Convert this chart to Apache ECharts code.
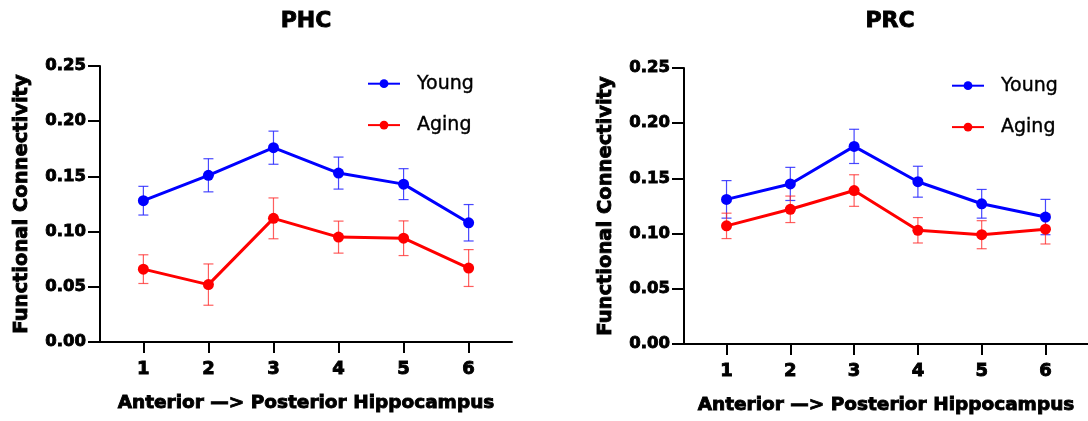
<!DOCTYPE html>
<html>
<head>
<meta charset="utf-8">
<script src="https://cdn.jsdelivr.net/npm/echarts@6/dist/echarts.min.js"></script>
<style>html,body{margin:0;padding:0;background:#fff;}#c{width:1088px;height:421px;}</style>
</head>
<body>
<div id="c"></div>
<script>
const positions = [1, 2, 3, 4, 5, 6];
const yTicks = [0, 0.05, 0.10, 0.15, 0.20, 0.25];
const titles = ['PHC', 'PRC'];
const seriesNames = ['Young', 'Aging'];

// PHC panel
const phcYoung = [0.128, 0.151, 0.176, 0.153, 0.143, 0.108];
const phcYoungErr = [0.013, 0.015, 0.015, 0.0145, 0.014, 0.0165];
const phcAging = [0.066, 0.052, 0.112, 0.095, 0.094, 0.067];
const phcAgingErr = [0.013, 0.0187, 0.0185, 0.0145, 0.0157, 0.0167];

// PRC panel
const prcYoung = [0.131, 0.145, 0.179, 0.147, 0.127, 0.115];
const prcYoungErr = [0.017, 0.015, 0.0155, 0.014, 0.013, 0.016];
const prcAging = [0.107, 0.122, 0.139, 0.103, 0.099, 0.104];
const prcAgingErr = [0.0115, 0.012, 0.0143, 0.0115, 0.0127, 0.0134];

const colors = ['#0000ff', '#ff0000'];
const errColors = ['rgba(40,40,255,0.85)', 'rgba(255,40,40,0.75)'];

const panels = [
  {left: 100, top: 66, values: [phcYoung, phcAging], errs: [phcYoungErr, phcAgingErr]},
  {left: 684, top: 68, values: [prcYoung, prcAging], errs: [prcYoungErr, prcAgingErr]}
];
const gridW = 412, gridH = 276;
const FONT = 'DejaVu Sans';
const heavy = {textBorderColor: '#000', textBorderWidth: 0.9};

const option = {
  animation: false,
  backgroundColor: '#ffffff',
  title: panels.map((p, i) => ({
    text: titles[i],
    left: p.left + gridW / 2,
    top: 10,
    padding: 0,
    textAlign: 'center',
    textStyle: Object.assign({fontFamily: FONT, fontWeight: 'bold', fontSize: 22, color: '#000'}, heavy)
  })),
  legend: panels.map((p, i) => ({
    data: seriesNames,
    orient: 'vertical',
    left: p.left + 267,
    top: p.top + 8,
    padding: 0,
    itemWidth: 32,
    itemHeight: 11,
    itemGap: 22,
    textStyle: {fontFamily: FONT, fontSize: 19, color: '#000', padding: [0, 0, 0, 12],
      textBorderColor: '#000', textBorderWidth: 0.4}
  })),
  grid: panels.map(p => ({left: p.left, top: p.top, width: gridW, height: gridH, containLabel: false})),
  xAxis: panels.map((p, i) => ({
    type: 'value', gridIndex: i, min: 1/3, max: 20/3,
    name: 'Anterior \u2014> Posterior Hippocampus',
    nameLocation: 'middle', nameGap: 52,
    nameTextStyle: Object.assign({fontFamily: FONT, fontWeight: 'bold', fontSize: 18.5, color: '#000'}, heavy),
    axisLine: {show: true, lineStyle: {color: '#000', width: 2}},
    axisTick: {show: true, length: 11, lineStyle: {color: '#000', width: 2}, customValues: positions},
    axisLabel: Object.assign({customValues: positions, margin: 18, fontFamily: FONT, fontWeight: 'bold', fontSize: 18, color: '#000'}, heavy),
    splitLine: {show: false}
  })),
  yAxis: panels.map((p, i) => ({
    type: 'value', gridIndex: i, min: 0, max: 0.25, interval: 0.05,
    name: 'Functional Connectivity',
    nameLocation: 'middle', nameGap: 68,
    nameTextStyle: Object.assign({fontFamily: FONT, fontWeight: 'bold', fontSize: 19.5, color: '#000'}, heavy),
    axisLine: {show: true, lineStyle: {color: '#000', width: 2}},
    axisTick: {show: true, length: 12, lineStyle: {color: '#000', width: 2}},
    axisLabel: Object.assign({margin: 14, fontFamily: FONT, fontWeight: 'bold', fontSize: 16.5, color: '#000',
      formatter: v => v.toFixed(2)}, heavy),
    splitLine: {show: false}
  })),
  series: []
};

panels.forEach((p, pi) => {
  seriesNames.forEach((name, si) => {
    const vals = p.values[si], errs = p.errs[si];
    option.series.push({
      type: 'line', name: name, xAxisIndex: pi, yAxisIndex: pi,
      data: positions.map((x, k) => [x, vals[k]]),
      symbol: 'circle', symbolSize: 11,
      lineStyle: {color: colors[si], width: 3},
      itemStyle: {color: colors[si]},
      z: 3
    });
    option.series.push({
      type: 'custom', name: name + ' SEM', xAxisIndex: pi, yAxisIndex: pi, silent: true,
      itemStyle: {color: colors[si]},
      data: positions.map((x, k) => [x, vals[k] - errs[k], vals[k] + errs[k]]),
      renderItem: function (params, api) {
        const lo = api.coord([api.value(0), api.value(1)]);
        const hi = api.coord([api.value(0), api.value(2)]);
        const hw = 5;
        const style = {stroke: errColors[si], lineWidth: 1.2, fill: null};
        return {type: 'group', children: [
          {type: 'line', shape: {x1: lo[0], y1: lo[1], x2: hi[0], y2: hi[1]}, style: style},
          {type: 'line', shape: {x1: hi[0] - hw, y1: hi[1], x2: hi[0] + hw, y2: hi[1]}, style: style},
          {type: 'line', shape: {x1: lo[0] - hw, y1: lo[1], x2: lo[0] + hw, y2: lo[1]}, style: style}
        ]};
      },
      z: 1
    });
  });
});

const chart = echarts.init(document.getElementById('c'), null, {renderer: 'canvas'});
chart.setOption(option);
</script>
</body>
</html>
